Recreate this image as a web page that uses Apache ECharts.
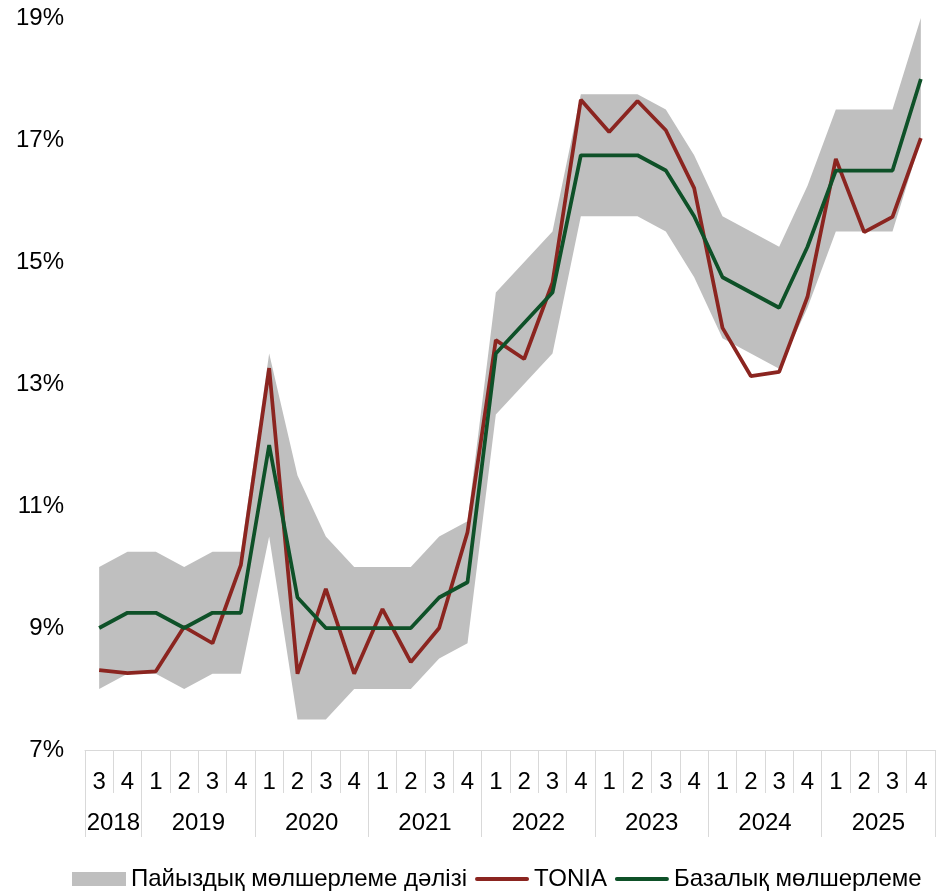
<!DOCTYPE html>
<html>
<head>
<meta charset="utf-8">
<script src="https://cdn.jsdelivr.net/npm/echarts@6/dist/echarts.min.js"></script>
<style>
html,body{margin:0;padding:0;background:#fff;}
#chart{width:936px;height:896px;}
</style>
</head>
<body>
<div id="chart"></div>
<script>
var quarters = ['3','4','1','2','3','4','1','2','3','4','1','2','3','4','1','2','3','4','1','2','3','4','1','2','3','4','1','2','3','4'];
var yearBoundaries = ['','2018','','','2019','','','','2020','','','','2021','','','','2022','','','','2023','','','','2024','','','','2025','',''];
var yearTickIdx = [0, 2, 6, 10, 14, 18, 22, 26, 30];
var yTicks = [7, 9, 11, 13, 15, 17, 19];

var tonia = [8.31, 8.26, 8.29, 9.02, 8.75, 10.03, 13.26, 8.25, 9.64, 8.25, 9.31, 8.44, 9.0, 10.57, 13.72, 13.41, 14.66, 17.66, 17.13, 17.64, 17.16, 16.21, 13.92, 13.13, 13.2, 14.43, 16.69, 15.49, 15.74, 17.03];
var baseRate = [9, 9.25, 9.25, 9, 9.25, 9.25, 12, 9.5, 9, 9, 9, 9, 9.5, 9.75, 13.5, 14, 14.5, 16.75, 16.75, 16.75, 16.5, 15.75, 14.75, 14.5, 14.25, 15.25, 16.5, 16.5, 16.5, 18];
var corridorUpper = [10, 10.25, 10.25, 10, 10.25, 10.25, 13.5, 11.5, 10.5, 10, 10, 10, 10.5, 10.75, 14.5, 15, 15.5, 17.75, 17.75, 17.75, 17.5, 16.75, 15.75, 15.5, 15.25, 16.25, 17.5, 17.5, 17.5, 19];
var corridorLower = [8, 8.25, 8.25, 8, 8.25, 8.25, 10.5, 7.5, 7.5, 8, 8, 8, 8.5, 8.75, 12.5, 13, 13.5, 15.75, 15.75, 15.75, 15.5, 14.75, 13.75, 13.5, 13.25, 14.25, 15.5, 15.5, 15.5, 17];

var nameCorridor = 'Пайыздық мөлшерлеме дәлізі';
var nameTonia = 'TONIA';
var nameBase = 'Базалық мөлшерлеме';

var corridorWidth = corridorUpper.map(function (u, i) { return +(u - corridorLower[i]).toFixed(4); });

var FONT = 'Liberation Sans, Arial, sans-serif';
var LINE_ICON = 'path://M2,0 L54,0 A2,2 0 0 1 54,4 L2,4 A2,2 0 0 1 2,0 Z';
var chart = echarts.init(document.getElementById('chart'), null, {renderer: 'canvas'});
chart.setOption({
  animation: false,
  backgroundColor: '#ffffff',
  textStyle: {fontFamily: FONT, color: '#000'},
  grid: {left: 85, right: 1, top: 18, bottom: 146, containLabel: false},
  legend: {
    left: 72, top: 867, padding: 0,
    itemWidth: 54, itemHeight: 14, itemGap: 8,
    textStyle: {fontFamily: FONT, fontSize: 24, color: '#000'},
    data: [
      {name: nameCorridor, icon: 'rect', itemStyle: {color: '#bfbfbf'}},
      {name: nameTonia, icon: LINE_ICON, itemStyle: {color: '#8b2520'}},
      {name: nameBase, icon: LINE_ICON, itemStyle: {color: '#0e5128'}}
    ]
  },
  xAxis: [
    {
      type: 'category',
      data: quarters,
      boundaryGap: true,
      axisLine: {show: true, lineStyle: {color: '#d9d9d9', width: 1}},
      axisTick: {show: true, interval: 0, length: 43, lineStyle: {color: '#d9d9d9', width: 1}},
      axisLabel: {interval: 0, margin: 20, fontSize: 24, color: '#000', fontFamily: FONT},
      splitLine: {show: false}
    },
    {
      type: 'category',
      position: 'bottom',
      data: yearBoundaries,
      boundaryGap: false,
      axisLine: {show: false},
      axisTick: {
        show: true, length: 87,
        interval: function (idx) { return yearTickIdx.indexOf(idx) >= 0; },
        lineStyle: {color: '#d9d9d9', width: 1}
      },
      axisLabel: {
        margin: 61, fontSize: 24, color: '#000', fontFamily: FONT,
        interval: function (idx, val) { return val !== ''; }
      },
      splitLine: {show: false}
    }
  ],
  yAxis: {
    type: 'value',
    min: yTicks[0], max: yTicks[yTicks.length - 1], interval: 2,
    axisLine: {show: false},
    axisTick: {show: false},
    splitLine: {show: false},
    axisLabel: {formatter: '{value}%', fontSize: 24, color: '#000', margin: 21, fontFamily: FONT}
  },
  series: [
    {
      name: 'corridor-lower',
      type: 'line',
      stack: 'corridor',
      data: corridorLower,
      symbol: 'none',
      lineStyle: {opacity: 0},
      silent: true,
      z: 1
    },
    {
      name: nameCorridor,
      type: 'line',
      stack: 'corridor',
      data: corridorWidth,
      symbol: 'none',
      lineStyle: {opacity: 0},
      itemStyle: {color: '#bfbfbf'},
      areaStyle: {color: '#bfbfbf', opacity: 1},
      silent: true,
      z: 1
    },
    {
      name: nameTonia,
      type: 'line',
      data: tonia,
      symbol: 'none',
      itemStyle: {color: '#8b2520'},
      lineStyle: {color: '#8b2520', width: 3.75},
      z: 3
    },
    {
      name: nameBase,
      type: 'line',
      data: baseRate,
      symbol: 'none',
      itemStyle: {color: '#0e5128'},
      lineStyle: {color: '#0e5128', width: 3.75},
      z: 4
    }
  ]
});
</script>
</body>
</html>
